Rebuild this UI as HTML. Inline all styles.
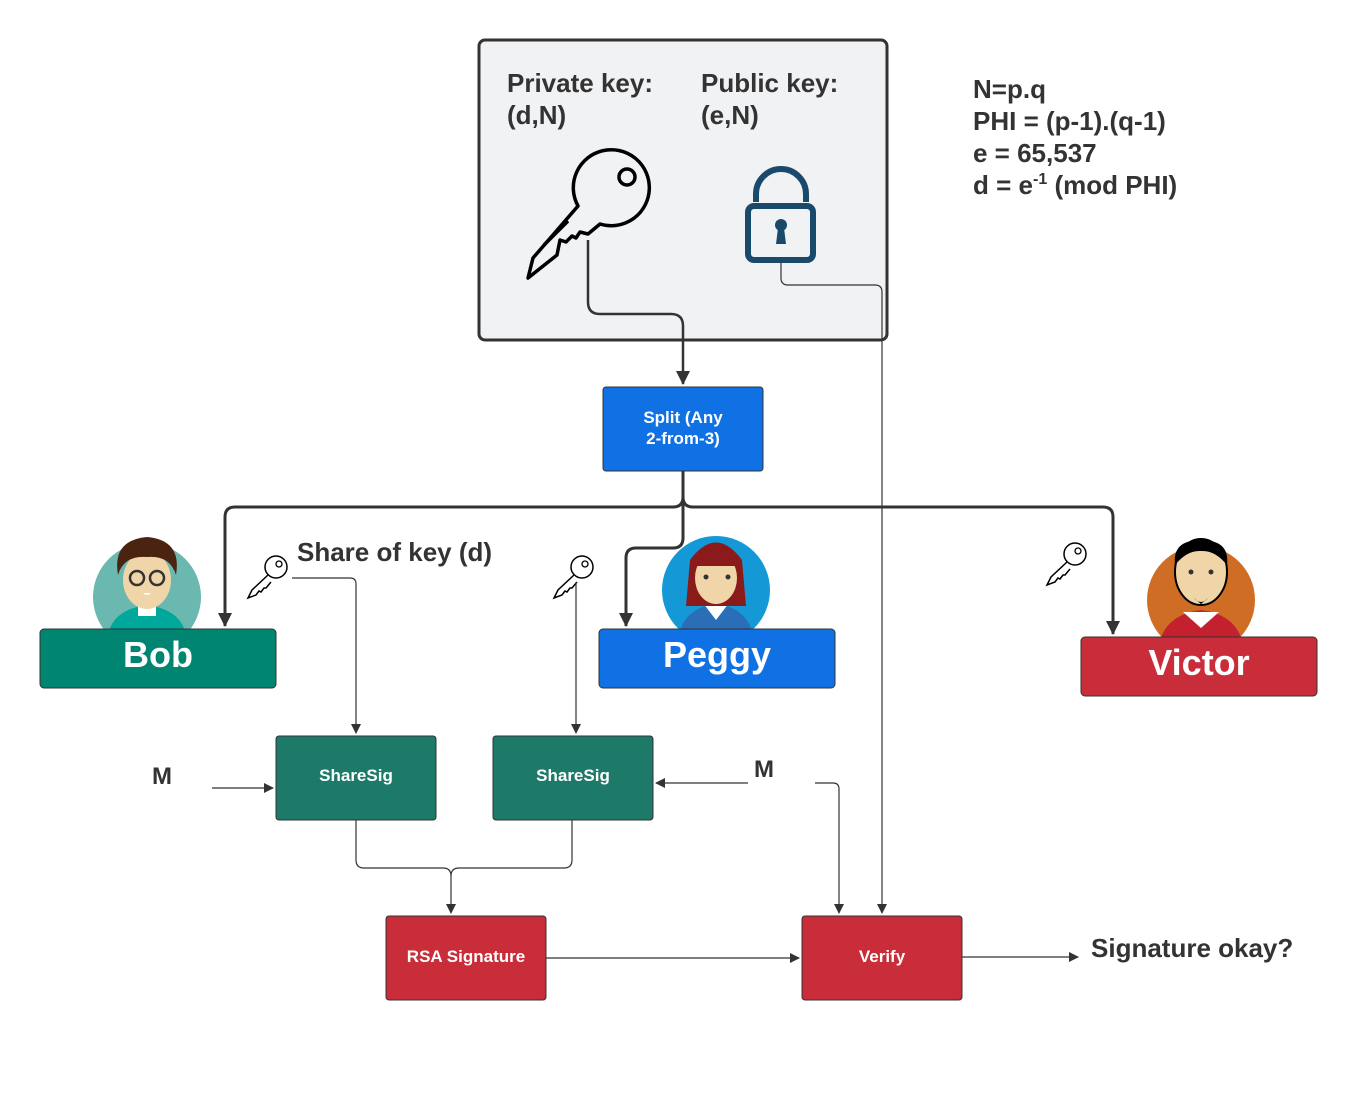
<!DOCTYPE html>
<html><head><meta charset="utf-8"><style>
html,body{margin:0;padding:0;background:#fff;}
svg{display:block;}
text{font-family:"Liberation Sans",Arial,sans-serif;font-weight:bold;}
</style></head><body>
<svg width="1357" height="1109" viewBox="0 0 1357 1109" xmlns="http://www.w3.org/2000/svg">
<defs>
<marker id="a" markerWidth="10" markerHeight="10" refX="9" refY="5" orient="auto" markerUnits="userSpaceOnUse"><path d="M0,0 L10,5 L0,10 z" fill="#333"/></marker>
<marker id="b" markerWidth="14" markerHeight="16" refX="13" refY="7" orient="auto" markerUnits="userSpaceOnUse"><path d="M0,0 L14,7 L0,14 z" fill="#333"/></marker>
<g id="k">
<circle cx="30" cy="13" r="11" fill="#fff" stroke="#000" stroke-width="1.5"/>
<circle cx="33" cy="10" r="3" fill="none" stroke="#000" stroke-width="1.3"/>
<path d="M22,21 L6,36 L2,44 L10,41 L13,37 L15,38 L18,34 L20,34 L25,28" fill="#fff" stroke="#000" stroke-width="1.5"/>
</g>
<clipPath id="cb"><rect x="0" y="0" width="1357" height="630"/></clipPath>
<clipPath id="cv"><rect x="0" y="0" width="1357" height="638"/></clipPath>
</defs>

<!-- main box -->
<rect x="479" y="40" width="408" height="300" rx="6" fill="#f1f2f4" stroke="#333" stroke-width="3"/>
<g font-size="26" fill="#333">
<text x="507" y="92">Private key:</text><text x="507" y="124">(d,N)</text>
<text x="701" y="92">Public key:</text><text x="701" y="124">(e,N)</text>
</g>
<!-- big key -->
<g fill="none" stroke="#000" stroke-width="3.5" stroke-linejoin="round">
<path d="M578,206 A38,38 0 1,1 600,224 L588,234 L580,232 L576,238 L572,236 L566,242 L560,240 L557,255 L528,278 L533,258 Z" fill="#f1f2f4"/>
<circle cx="627" cy="177" r="8"/>
<path d="M544,245 L568,221"/>
</g>
<!-- lock -->
<g fill="none" stroke="#1a4a6b" stroke-width="6">
<path d="M756,202 V194 A25,25 0 0,1 806,194 V202"/>
<rect x="748" y="206" width="65" height="54" rx="6"/>
</g>
<circle cx="781" cy="225" r="6" fill="#1a4a6b"/><path d="M778,228 L776,244 L786,244 L784,228 Z" fill="#1a4a6b"/>

<g font-size="26" fill="#333">
<text x="973" y="98">N=p.q</text>
<text x="973" y="130">PHI = (p-1).(q-1)</text>
<text x="973" y="162">e = 65,537</text>
<text x="973" y="194">d = e<tspan font-size="16" dy="-10">-1</tspan><tspan dy="10"> (mod PHI)</tspan></text>
</g>

<!-- connectors -->
<path d="M588,240 V302 Q588,314 600,314 H671 Q683,314 683,326 V384" fill="none" stroke="#333" stroke-width="2.5" marker-end="url(#b)"/>
<path d="M781,262 V278 Q781,285 788,285 H875 Q882,285 882,292 V913" fill="none" stroke="#333" stroke-width="1.2" marker-end="url(#a)"/>

<!-- split -->
<rect x="603" y="387" width="160" height="84" rx="3" fill="#1071e5" stroke="#333" stroke-width="1"/>
<text x="683" y="423" font-size="17" fill="#fff" text-anchor="middle">Split (Any</text>
<text x="683" y="444" font-size="17" fill="#fff" text-anchor="middle">2-from-3)</text>

<g fill="none" stroke="#333" stroke-width="3">
<path d="M683,471 V497 Q683,507 673,507 H235 Q225,507 225,517 V626" marker-end="url(#b)"/>
<path d="M683,497 Q683,507 693,507 H1103 Q1113,507 1113,517 V634" marker-end="url(#b)"/>
<path d="M683,471 V538 Q683,548 673,548 H636 Q626,548 626,558 V626" marker-end="url(#b)"/>
</g>

<!-- avatars -->
<g clip-path="url(#cb)">
<circle cx="147" cy="597" r="54" fill="#6ab8b0"/>
<path d="M107,640 Q110,610 147,605 Q184,610 187,640 Z" fill="#00a79b"/>
<rect x="138" y="598" width="18" height="18" fill="#fff"/>
<ellipse cx="147" cy="580" rx="24" ry="29" fill="#efd5a8"/>
<path d="M118,575 Q112,540 147,537 Q182,540 176,575 Q170,555 147,557 Q124,555 118,575 Z" fill="#4a2410"/>
<circle cx="137" cy="578" r="7" fill="none" stroke="#333" stroke-width="2.5"/><circle cx="157" cy="578" r="7" fill="none" stroke="#333" stroke-width="2.5"/>
<path d="M143,593 Q147,597 151,593" fill="#fff"/>
<circle cx="716" cy="590" r="54" fill="#1599d6"/>
<path d="M678,640 Q682,608 716,604 Q750,608 754,640 Z" fill="#2a6eb8"/>
<path d="M703,603 L716,620 L729,603 Z" fill="#fff"/>
<path d="M686,606 L690,560 Q716,525 742,560 L746,606 Z" fill="#8b1a1a"/>
<ellipse cx="716" cy="578" rx="21" ry="26" fill="#efd5a8"/>
<path d="M694,566 Q700,545 716,546 Q732,545 738,566 Z" fill="#8b1a1a"/>
<circle cx="706" cy="577" r="2.5" fill="#333"/><circle cx="728" cy="577" r="2.5" fill="#333"/>
</g>
<g clip-path="url(#cv)">
<circle cx="1201" cy="600" r="54" fill="#d06d25"/>
<path d="M1158,650 Q1162,615 1201,610 Q1240,615 1244,650 Z" fill="#c4212f"/>
<path d="M1183,612 L1201,628 L1219,612 Z" fill="#fff"/>
<ellipse cx="1201" cy="572" rx="26" ry="33" fill="#efd5a8" stroke="#000" stroke-width="2"/>
<path d="M1175,565 Q1172,540 1201,540 Q1230,540 1227,565 Q1215,550 1201,551 Q1187,550 1175,565 Z" fill="#000"/>
<circle cx="1191" cy="572" r="2.5" fill="#333"/><circle cx="1211" cy="572" r="2.5" fill="#333"/>
<path d="M1194,598 Q1201,606 1208,598 L1201,604 Z" fill="#000"/>
</g>

<!-- person boxes -->
<rect x="40" y="629" width="236" height="59" rx="4" fill="#008571" stroke="#333" stroke-width="1"/>
<text x="158" y="667" font-size="36" fill="#fff" text-anchor="middle">Bob</text>
<rect x="599" y="629" width="236" height="59" rx="4" fill="#1071e5" stroke="#333" stroke-width="1"/>
<text x="717" y="667" font-size="36" fill="#fff" text-anchor="middle">Peggy</text>
<rect x="1081" y="637" width="236" height="59" rx="4" fill="#c92d39" stroke="#333" stroke-width="1"/>
<text x="1199" y="675" font-size="36" fill="#fff" text-anchor="middle">Victor</text>

<text x="297" y="561" font-size="26" fill="#333">Share of key (d)</text>
<use href="#k" x="246" y="554"/>
<use href="#k" x="552" y="554"/>
<use href="#k" x="1045" y="541"/>

<g fill="none" stroke="#333" stroke-width="1.2">
<path d="M292,578 H350 Q356,578 356,584 V733" marker-end="url(#a)"/>
<path d="M576,582 V733" marker-end="url(#a)"/>
<path d="M212,788 H273" marker-end="url(#a)"/>
<path d="M748,783 H656" marker-end="url(#a)"/>
<path d="M815,783 H833 Q839,783 839,789 V913" marker-end="url(#a)"/>
<path d="M356,820 V860 Q356,868 364,868 H443 Q451,868 451,876 V913" marker-end="url(#a)"/>
<path d="M572,820 V860 Q572,868 564,868 H459 Q451,868 451,876"/>
<path d="M546,958 H799" marker-end="url(#a)"/>
<path d="M962,957 H1078" marker-end="url(#a)"/>
</g>

<text x="152" y="784" font-size="24" fill="#333">M</text>
<text x="754" y="777" font-size="24" fill="#333">M</text>

<rect x="276" y="736" width="160" height="84" rx="3" fill="#1d7a68" stroke="#333" stroke-width="1"/>
<text x="356" y="781" font-size="17" fill="#fff" text-anchor="middle">ShareSig</text>
<rect x="493" y="736" width="160" height="84" rx="3" fill="#1d7a68" stroke="#333" stroke-width="1"/>
<text x="573" y="781" font-size="17" fill="#fff" text-anchor="middle">ShareSig</text>
<rect x="386" y="916" width="160" height="84" rx="3" fill="#c92d39" stroke="#333" stroke-width="1"/>
<text x="466" y="962" font-size="17" fill="#fff" text-anchor="middle">RSA Signature</text>
<rect x="802" y="916" width="160" height="84" rx="3" fill="#c92d39" stroke="#333" stroke-width="1"/>
<text x="882" y="962" font-size="17" fill="#fff" text-anchor="middle">Verify</text>
<text x="1091" y="957" font-size="26" fill="#333">Signature okay?</text>
</svg>
</body></html>
